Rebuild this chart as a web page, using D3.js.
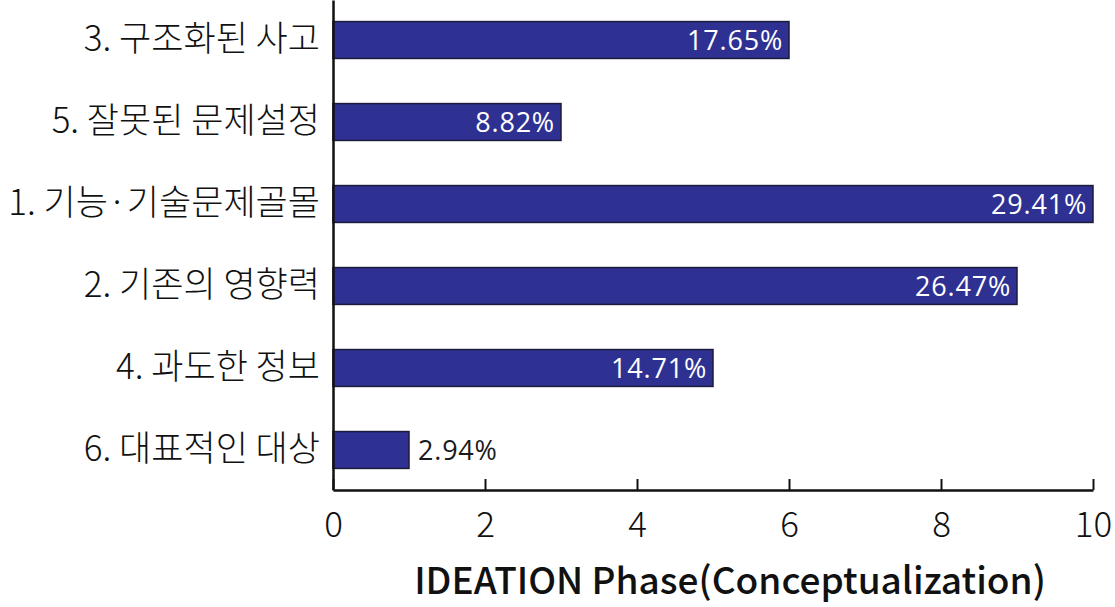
<!DOCTYPE html>
<html>
<head>
    <meta charset="utf-8">
    <script type="text/javascript" src="https://d3js.org/d3.v7.min.js"></script>
    <style>
body { margin: 0; background: #fff; }
svg text { font-family: "Noto Sans CJK KR", "Noto Sans", sans-serif; }
.bar { fill: #2e3192; stroke: #1b1b3a; stroke-width: 1.5px; }
    </style>
</head>
<body>
    <svg width="1115" height="607"></svg>

    <script type="text/javascript">

	// categories, top to bottom
	var categories = ["3. 구조화된 사고", "5. 잘못된 문제설정", "1. 기능·기술문제골몰",
		"2. 기존의 영향력", "4. 과도한 정보", "6. 대표적인 대상"];
	var counts = [6, 3, 10, 9, 5, 1];
	var percentLabels = ["17.65%", "8.82%", "29.41%", "26.47%", "14.71%", "2.94%"];
	var xTicks = [0, 2, 4, 6, 8, 10];
	var xTitle = "IDEATION Phase(Conceptualization)";

	var data = categories.map(function(c, i) {
		return { cat: c, value: counts[i], label: percentLabels[i] };
	});

	var svg = d3.select("svg"),
		margin = {top: 0, right: 22, bottom: 117, left: 333},
		width = +svg.attr("width") - margin.left - margin.right,
		height = +svg.attr("height") - margin.top - margin.bottom,
		g = svg.append("g").attr("transform", "translate(" + margin.left + "," + margin.top + ")");

	var x = d3.scaleLinear()
		.domain([0, 10])
		.range([0, width]);

	var y = d3.scaleBand()
		.domain(categories)
		.range([0, height])
		.paddingInner(0.55)
		.paddingOuter(0.263);

	// bars
	g.selectAll(".bar")
		.data(data)
		.enter().append("rect")
		.attr("class", "bar")
		.attr("x", 0)
		.attr("y", function(d) { return y(d.cat); })
		.attr("width", function(d) { return x(d.value); })
		.attr("height", y.bandwidth());

	// percentage labels: inside the bar, unless it is too short
	g.selectAll(".pct")
		.data(data)
		.enter().append("text")
		.attr("class", "pct")
		.attr("x", function(d) { return d.value > 2 ? x(d.value) - 6 : x(d.value) + 9; })
		.attr("y", function(d) { return y(d.cat) + y.bandwidth() / 2; })
		.attr("dy", "0.36em")
		.attr("text-anchor", function(d) { return d.value > 2 ? "end" : "start"; })
		.attr("fill", function(d) { return d.value > 2 ? "#fff" : "#1a1a1a"; })
		.style("font-family", "'Open Sans', sans-serif")
		.style("font-size", "27px")
		.style("letter-spacing", "0.8px")
		.text(function(d) { return d.label; });

	// x axis, ticks pointing up
	var xAxis = g.append("g")
		.attr("transform", "translate(0," + height + ")")
		.call(d3.axisBottom(x).tickValues(xTicks).tickSizeInner(-11).tickSizeOuter(0).tickPadding(22));
	xAxis.select(".domain").attr("stroke", "#111").attr("stroke-width", 2.5);
	xAxis.selectAll(".tick line").attr("stroke", "#111").attr("stroke-width", 2);
	xAxis.selectAll(".tick text")
		.attr("fill", "#111")
		.style("font-size", "35px")
		.style("font-weight", 300);

	// y axis, line only, with category labels
	var yAxis = g.append("g")
		.call(d3.axisLeft(y).tickSize(0).tickPadding(13));
	yAxis.select(".domain").attr("stroke", "#111").attr("stroke-width", 2.5);
	yAxis.selectAll(".tick text")
		.attr("fill", "#111")
		.style("font-size", "35px")
		.style("font-weight", 300);

	// axis title
	svg.append("text")
		.attr("x", 730)
		.attr("y", 594)
		.attr("text-anchor", "middle")
		.attr("fill", "#111")
		.style("font-size", "37px")
		.style("font-weight", 500)
		.text(xTitle);

	</script>
</body>
</html>
